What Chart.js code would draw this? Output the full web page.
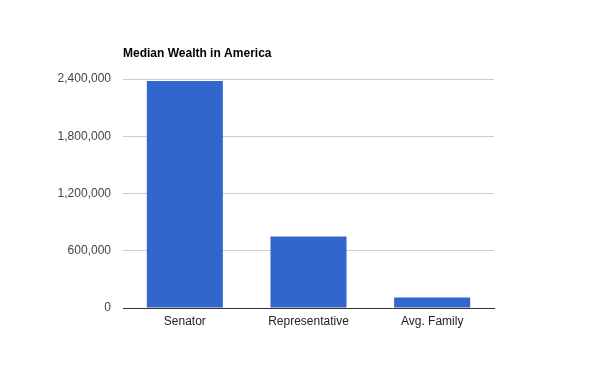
<!DOCTYPE html>
<html>
<head>
<meta charset="utf-8">
<script src="https://cdn.jsdelivr.net/npm/chart.js@4/dist/chart.umd.min.js"></script>
<style>
html,body{margin:0;padding:0;background:#fff;}
#wrap{width:600px;height:371px;position:relative;}
</style>
</head>
<body>
<div id="wrap"><canvas id="c" width="600" height="371"></canvas></div>
<script>
const titleText = "Median Wealth in America";
const categories = ["Senator", "Representative", "Avg. Family"];
const values = [2380000, 750000, 110000];
const yTicks = [0, 600000, 1200000, 1800000, 2400000];

const fontFamily = "'Liberation Sans', Arial, sans-serif";

const titlePlugin = {
  id: 'leftTitle',
  afterDraw(chart) {
    const ctx = chart.ctx;
    ctx.save();
    ctx.font = "bold 12px " + fontFamily;
    ctx.fillStyle = "#000";
    ctx.textAlign = "left";
    ctx.textBaseline = "middle";
    ctx.fillText(titleText, chart.chartArea.left, 54);
    ctx.restore();
  }
};

new Chart(document.getElementById('c'), {
  type: 'bar',
  data: {
    labels: categories,
    datasets: [{
      data: values,
      backgroundColor: '#3366cc',
      borderWidth: 0,
      categoryPercentage: 1.0,
      barPercentage: 0.615
    }]
  },
  options: {
    responsive: false,
    animation: false,
    devicePixelRatio: 1,
    layout: { padding: { top: 79, right: 106, bottom: 0, left: 0 } },
    plugins: { legend: { display: false }, title: { display: false }, tooltip: { enabled: false } },
    scales: {
      x: {
        grid: { display: false, drawTicks: false },
        border: { display: true, color: '#333333', width: 1 },
        ticks: { color: '#222222', font: { family: fontFamily, size: 12 }, padding: 6, maxRotation: 0 },
        afterFit(scale) { scale.height = 63; }
      },
      y: {
        min: 0,
        max: 2400000,
        afterBuildTicks(scale) { scale.ticks = yTicks.map(v => ({ value: v })); },
        grid: {
          color: ctx => (ctx.tick && ctx.tick.value === 0) ? '#333333' : '#cccccc',
          drawTicks: false
        },
        border: { display: false },
        ticks: {
          color: '#444444',
          font: { family: fontFamily, size: 12 },
          padding: 12,
          callback: v => Number(v).toLocaleString('en-US')
        },
        afterFit(scale) { scale.width = 123; }
      }
    }
  },
  plugins: [titlePlugin]
});
</script>
</body>
</html>
